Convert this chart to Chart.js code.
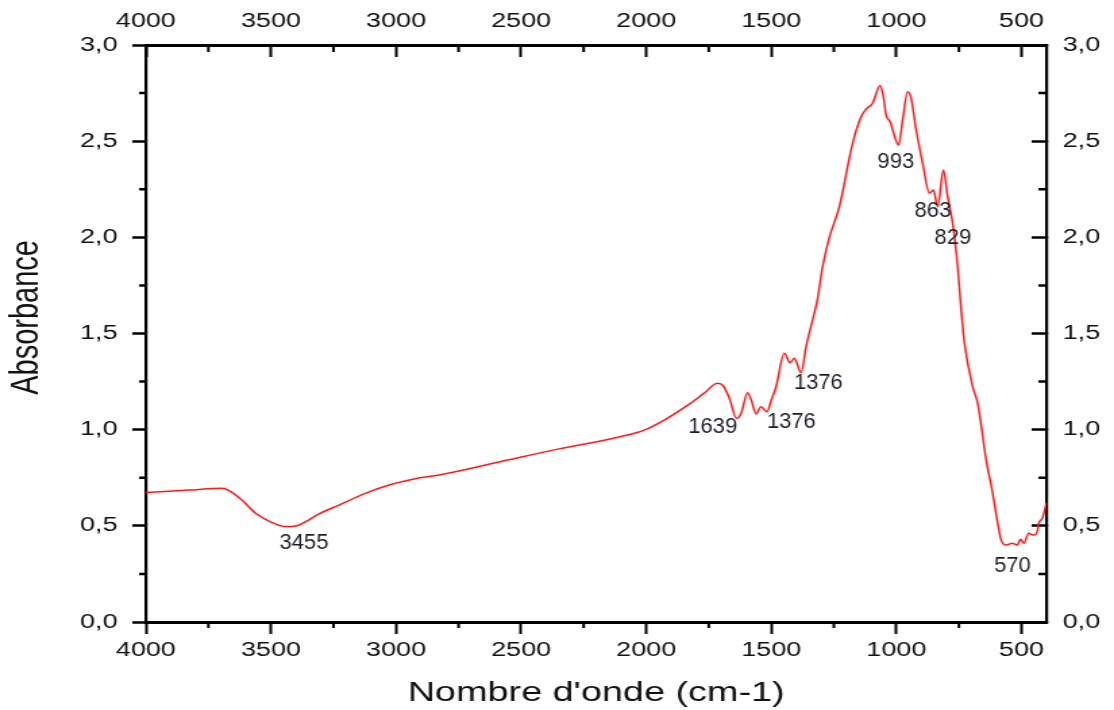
<!DOCTYPE html>
<html>
<head>
<meta charset="utf-8">
<script src="https://cdn.jsdelivr.net/npm/chart.js@4"></script>
<style>
  html, body { margin: 0; padding: 0; background: #fff; overflow: hidden; }
  #spectre { display: block; transform: scaleX(1.35030303); transform-origin: 0 0; }
</style>
</head>
<body>
<canvas id="spectre" width="825" height="710"></canvas>
<script>
// spectre IR : nombre d'onde (cm-1) / absorbance
const wavenumber = [
    4000, 3828, 3696, 3668, 3616, 3561, 3508, 3441, 3400, 3361,
    3308, 3228, 3128, 3028, 2928, 2828, 2588, 2348, 2108, 2008,
    1928, 1828, 1768, 1715, 1692, 1668, 1639, 1620, 1595, 1580,
    1561, 1541, 1517, 1500, 1481, 1448, 1425, 1408, 1381, 1361,
    1335, 1316, 1295, 1268, 1228, 1175, 1141, 1121, 1095, 1065,
    1052, 1041, 1025, 991, 975, 955, 941, 921, 895, 868,
    852, 835, 812, 795, 775, 755, 741, 728, 695, 675,
    641, 615, 595, 581, 561, 537, 517, 504, 491, 471,
    453, 437, 431, 417, 400
];
const absorbance = [
    0.673, 0.686, 0.695, 0.683, 0.634, 0.565, 0.525, 0.496, 0.499, 0.522,
    0.562, 0.608, 0.666, 0.712, 0.744, 0.764, 0.832, 0.900, 0.962, 0.998,
    1.050, 1.133, 1.190, 1.241, 1.227, 1.165, 1.059, 1.087, 1.192, 1.154,
    1.082, 1.119, 1.093, 1.154, 1.223, 1.397, 1.348, 1.371, 1.296, 1.431,
    1.570, 1.674, 1.847, 2.000, 2.160, 2.489, 2.627, 2.666, 2.697, 2.789,
    2.731, 2.636, 2.601, 2.480, 2.610, 2.757, 2.723, 2.558, 2.385, 2.229,
    2.246, 2.159, 2.350, 2.211, 2.073, 1.847, 1.622, 1.451, 1.224, 1.137,
    0.842, 0.669, 0.513, 0.426, 0.400, 0.409, 0.400, 0.430, 0.409, 0.461,
    0.452, 0.470, 0.513, 0.539, 0.620
];

// étiquettes des bandes
const peakLabels = ['3455', '1639', '1376', '1376', '993', '863', '829', '570'];
const peakLabelX = [3368, 1734, 1420, 1312, 1002, 854, 774, 536];
const peakLabelY = [0.411, 1.014, 1.040, 1.243, 2.392, 2.137, 1.997, 0.291];

const xMajorTicks = [4000, 3500, 3000, 2500, 2000, 1500, 1000, 500];
const xMinorTicks = [3750, 3250, 2750, 2250, 1750, 1250, 750];
const yMinorTicks = [0.25, 0.75, 1.25, 1.75, 2.25, 2.75];

// l'image d'origine est étirée horizontalement
const STRETCH = 1114 / 825;
const FONT = "'Liberation Sans', Arial, sans-serif";

document.addEventListener('DOMContentLoaded', function () {
    const canvas = document.getElementById('spectre');

    const points = wavenumber.map((w, i) => ({ x: w, y: absorbance[i] }));

    const minorTicksPlugin = {
        id: 'minorTicks',
        afterDraw(chart) {
            const { ctx, chartArea: area, scales } = chart;
            ctx.save();
            ctx.strokeStyle = '#000';
            ctx.lineWidth = 2;
            xMinorTicks.forEach(v => {
                const px = scales.x.getPixelForValue(v);
                ctx.beginPath();
                ctx.moveTo(px, area.bottom);
                ctx.lineTo(px, area.bottom + 6);
                ctx.moveTo(px, area.top);
                ctx.lineTo(px, area.top + 7);
                ctx.stroke();
            });
            ctx.lineWidth = 2.5;
            yMinorTicks.forEach(v => {
                const py = scales.y.getPixelForValue(v);
                ctx.beginPath();
                ctx.moveTo(area.left, py);
                ctx.lineTo(area.left - 5, py);
                ctx.moveTo(area.right, py);
                ctx.lineTo(area.right - 6, py);
                ctx.stroke();
            });
            ctx.restore();
        }
    };

    const peakLabelPlugin = {
        id: 'peakLabels',
        afterDatasetsDraw(chart) {
            const { ctx, scales } = chart;
            peakLabels.forEach((txt, i) => {
                const px = scales.x.getPixelForValue(peakLabelX[i]);
                const py = scales.y.getPixelForValue(peakLabelY[i]);
                ctx.save();
                ctx.translate(px, py);
                ctx.scale(1 / STRETCH, 1);
                ctx.font = '22px ' + FONT;
                ctx.fillStyle = '#1c1c28';
                ctx.textAlign = 'center';
                ctx.textBaseline = 'middle';
                ctx.fillText(txt, 0, 0);
                ctx.restore();
            });
        }
    };

    const setMajor = scale => {
        scale.ticks = xMajorTicks.map(v => ({ value: v }));
    };
    const fmtX = v => String(v);
    const fmtY = v => v.toFixed(1).replace('.', ',');
    const tickFont = { family: FONT, size: 20 };

    new Chart(canvas, {
        type: 'line',
        data: {
            datasets: [{
                label: 'Absorbance',
                data: points,
                borderColor: '#ff1a1a',
                borderWidth: 1.5,
                pointRadius: 0,
                cubicInterpolationMode: 'monotone',
                fill: false
            }]
        },
        options: {
            responsive: false,
            animation: false,
            devicePixelRatio: 1,
            layout: { padding: 0 },
            plugins: {
                legend: { display: false },
                tooltip: { enabled: false }
            },
            scales: {
                x: {
                    type: 'linear',
                    position: 'bottom',
                    reverse: true,
                    min: 400,
                    max: 4000,
                    afterBuildTicks: setMajor,
                    afterFit: s => { s.height = 88; },
                    grid: {
                        drawOnChartArea: false,
                        tickLength: 12,
                        tickColor: '#000',
                        tickWidth: 2
                    },
                    border: { color: '#000', width: 3 },
                    ticks: {
                        maxRotation: 0,
                        autoSkip: false,
                        padding: 4,
                        color: '#111',
                        font: tickFont,
                        callback: fmtX
                    },
                    title: {
                        display: true,
                        text: "Nombre d'onde (cm-1)",
                        color: '#111',
                        font: { family: FONT, size: 28 },
                        padding: 0
                    }
                },
                x2: {
                    type: 'linear',
                    position: 'top',
                    reverse: true,
                    min: 400,
                    max: 4000,
                    afterBuildTicks: setMajor,
                    afterFit: s => { s.height = 45; },
                    grid: {
                        drawOnChartArea: false,
                        tickLength: -12,
                        tickColor: '#000',
                        tickWidth: 2
                    },
                    border: { color: '#000', width: 3 },
                    ticks: {
                        maxRotation: 0,
                        autoSkip: false,
                        padding: 24,
                        color: '#111',
                        font: tickFont,
                        callback: fmtX
                    }
                },
                y: {
                    type: 'linear',
                    position: 'left',
                    min: 0,
                    max: 3,
                    afterFit: s => { s.width = 108; },
                    grid: {
                        drawOnChartArea: false,
                        tickLength: 10,
                        tickColor: '#000',
                        tickWidth: 2.5
                    },
                    border: { color: '#000', width: 2.2 },
                    ticks: {
                        stepSize: 0.5,
                        padding: 11,
                        color: '#111',
                        font: tickFont,
                        callback: fmtY
                    },
                    title: {
                        display: true,
                        text: '\u00a0\u00a0\u00a0\u00a0Absorbance',
                        color: '#111',
                        font: { family: FONT, size: 29 },
                        padding: { top: 3, bottom: 0 }
                    }
                },
                y2: {
                    type: 'linear',
                    position: 'right',
                    min: 0,
                    max: 3,
                    afterFit: s => { s.width = 50; },
                    grid: {
                        drawOnChartArea: false,
                        tickLength: -11,
                        tickColor: '#000',
                        tickWidth: 2.5
                    },
                    border: { color: '#000', width: 2.2 },
                    ticks: {
                        stepSize: 0.5,
                        padding: 23,
                        color: '#111',
                        font: tickFont,
                        callback: fmtY
                    }
                }
            }
        },
        plugins: [minorTicksPlugin, peakLabelPlugin]
    });
});
</script>
</body>
</html>
